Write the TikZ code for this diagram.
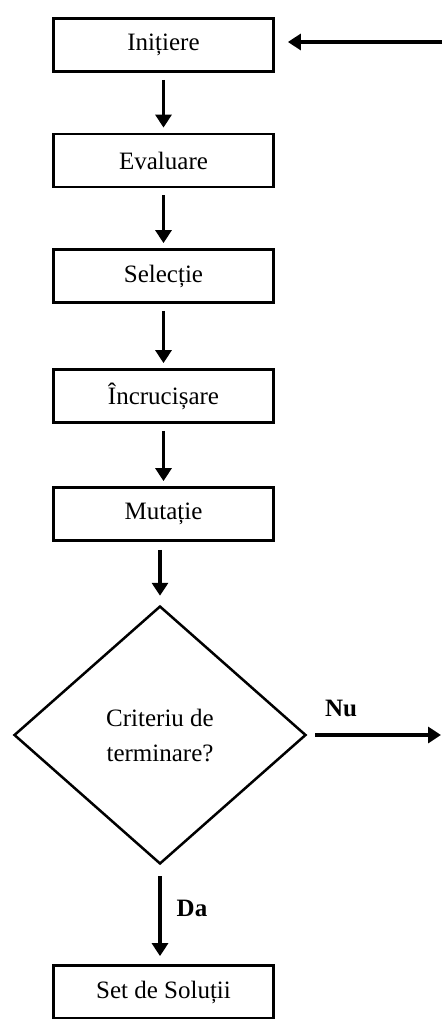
\documentclass[tikz,border=0pt]{standalone}
\usepackage{fontspec}
\setmainfont{Liberation Serif}
\usetikzlibrary{shapes.geometric,arrows.meta}

\begin{document}
\begin{tikzpicture}[x=1pt,y=-1pt,
        box/.style={draw, line width=2.8pt, minimum width=220pt, minimum height=53pt, inner sep=0pt},
        arr/.style={line width=3.5pt, -{Triangle[width=16pt,length=13pt]}},
        every node/.style={font=\fontsize{25}{35}\selectfont}]
    \useasboundingbox (0,0) rectangle (442,1019);
    \node [box] (init) at (163.5,45) {Inițiere};
    \node [box] (eval) at (163.5,160.5) {Evaluare};
    \node [box] (sel) at (163.5,276) {Selecție};
    \node [box] (cross) at (163.5,396) {Încrucișare};
    \node [box] (mut) at (163.5,514) {Mutație};
    \node [diamond, draw, line width=2.5pt, minimum width=292pt, minimum height=258pt, inner sep=0pt, align=center] (crit) at (160,735) {Criteriu de\\terminare?};
    \node [box] (sol) at (163.5,992) {Set de Soluții};
    \node (nu) at (341,708) {\textbf{Nu}};
    \node (da) at (192,908) {\textbf{Da}};
    \coordinate (loop) at (442,42);
    \coordinate (nuend) at (441,735);

    \foreach \a/\b in {init/eval, eval/sel, sel/cross, cross/mut}
        \draw [arr, shorten <=7pt, shorten >=5pt] (\a) -- (\b);
    \draw [arr, shorten <=8pt, shorten >=9pt] (mut.south -| crit.north) -- (crit.north);
    \draw [arr, shorten <=8pt] (crit.east) -- (nuend);
    \draw [arr, shorten <=11pt, shorten >=8pt] (crit.south) -- (crit.south |- sol.north);
    \draw [arr, shorten >=13pt] (loop) -- (init.east |- loop);
\end{tikzpicture}
\end{document}
